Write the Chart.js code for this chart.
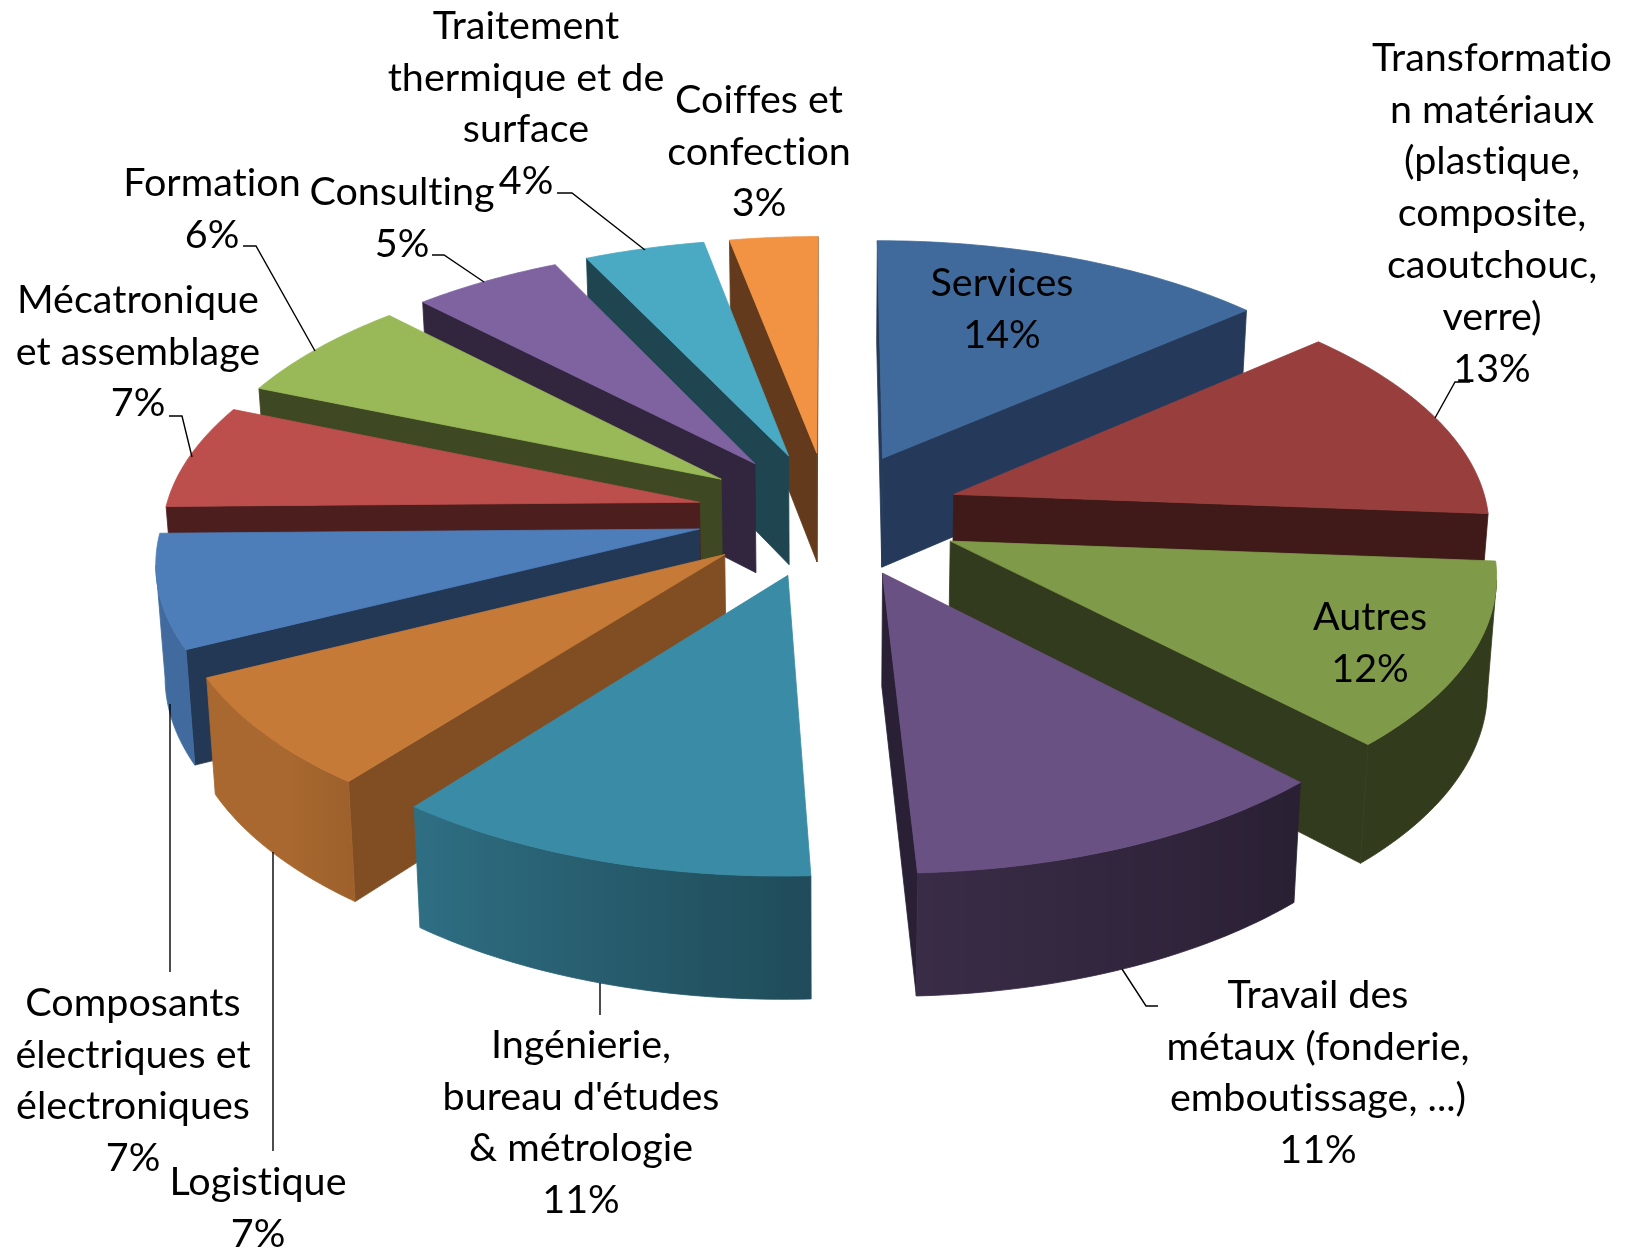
<!DOCTYPE html>
<html>
<head>
<meta charset="utf-8">
<title>Répartition par secteur</title>
<script src="https://cdn.jsdelivr.net/npm/chart.js@4"></script>
<style>
  body { margin: 0; background: white; }
  #wrap { width: 1627px; height: 1252px; }
</style>
</head>
<body>
<div id="wrap"><canvas id="pie" width="1627" height="1252"></canvas></div>
<script>
const categories = [
  "Services", "Transformation matériaux (plastique, composite, caoutchouc, verre)", "Autres",
  "Travail des métaux (fonderie, emboutissage, ...)", "Ingénierie, bureau d'études & métrologie",
  "Logistique", "Composants électriques et électroniques", "Mécatronique et assemblage",
  "Formation", "Consulting", "Traitement thermique et de surface", "Coiffes et confection",
];
// they round to the printed percentages
const values = [13.55, 12.6, 11.6, 11.4, 11.2, 7.1, 7.1, 6.55, 6.45, 5.1, 4.1, 3.0];
const topColors = [
  "#3F6A9B", "#983F3E", "#7F9A48", "#6A5183", "#3A8BA5", "#C67A37",
  "#4D7EBA", "#BC4E4C", "#99B958", "#7F63A1", "#4AA9C3", "#F29343",
];
const cutColors = [
  "#253A5A", "#3F1A18", "#333B1E", "#2A2035", "#1F4D5C", "#804E22",
  "#233855", "#4C1E1E", "#3E4822", "#32263F", "#1E4550", "#633B1C",
];

// how the labels were wrapped in the original
const labelLines = [
  ["Services"],
  ["Transformatio", "n matériaux", "(plastique,", "composite,", "caoutchouc,", "verre)"],
  ["Autres"],
  ["Travail des", "métaux (fonderie,", "emboutissage, ...)"],
  ["Ingénierie,", "bureau d'études", "& métrologie"],
  ["Logistique"],
  ["Composants", "électriques et", "électroniques"],
  ["Mécatronique", "et assemblage"],
  ["Formation"],
  ["Consulting"],
  ["Traitement", "thermique et de", "surface"],
  ["Coiffes et", "confection"],
];
const labelSpots = [
  [1002, 283], [1492, 58], [1370, 617], [1318, 995], [581, 1045], [258, 1182],
  [133, 1003], [138, 300], [212, 183], [402, 192], [526, 26], [759, 100],
];
const leaders = [
  [[1470, 382], [1455, 382], [1435, 418]],
  [[1158, 1006], [1146, 1006], [1122, 969]],
  [[600, 983], [600, 1015]],
  [[273, 852], [273, 1151]],
  [[170, 704], [170, 972]],
  [[169, 416], [182, 416], [192, 457]],
  [[243, 246], [256, 246], [315, 351]],
  [[432, 255], [444, 255], [484, 282]],
  [[557, 193], [572, 193], [645, 250]],
];

const camera = { cx: 829, cy: 514, scale: 535, tilt: 0.473, persp: 0.11, height: 0.21, fall: 0.014 };
const lineGap = 51.8;

function project(u, v, z) {
  const w = (1 - camera.persp * v) * (1 + camera.fall * z);
  return {
    x: camera.cx + (camera.scale * u) / w,
    y: camera.cy + (camera.scale * (camera.tilt * v + camera.height * z)) / w,
  };
}

function clamp(a, lo, hi) {
  return Math.min(hi, Math.max(lo, a));
}

function shade(hex, f) {
  const n = parseInt(hex.slice(1), 16);
  const r = Math.round(((n >> 16) & 255) * f);
  const g = Math.round(((n >> 8) & 255) * f);
  const b = Math.round((n & 255) * f);
  return "rgb(" + r + "," + g + "," + b + ")";
}

function fillPoly(ctx, pts, color) {
  ctx.beginPath();
  pts.forEach((p, i) => (i ? ctx.lineTo(p.x, p.y) : ctx.moveTo(p.x, p.y)));
  ctx.closePath();
  ctx.fillStyle = color;
  ctx.strokeStyle = color;
  ctx.lineWidth = 0.8;
  ctx.fill();
  ctx.stroke();
}

// true when a vertical wall through (u,v) with normal (nu,nv) faces the camera
function facing(u, v, nu, nv) {
  return (0 - u) * nu + (1 / camera.persp - v) * nv > 0;
}

function wallShade(a) {
  const clock = (((a + Math.PI / 2) * 180) / Math.PI + 360) % 360;
  if (clock < 177) return clamp(0.39 + (0.15 * (clock - 136)) / 41, 0.39, 0.54);
  return clamp(0.54 + (0.26 * (clock - 177)) / 41, 0.54, 0.85);
}

// rounded outer wall, lighter towards the left
function drawRim(ctx, rim, color) {
  const seen = rim.filter((p) => facing(p.u, p.v, Math.cos(p.a), Math.sin(p.a)));
  if (seen.length < 2) return;
  const upper = seen.map((p) => project(p.u, p.v, 0));
  const lower = seen.map((p) => project(p.u, p.v, 1)).reverse();
  const xs = upper.map((p) => p.x);
  const minX = Math.min(...xs);
  const maxX = Math.max(...xs);
  const grad = ctx.createLinearGradient(minX, 0, maxX, 0);
  seen.forEach((p, s) => {
    grad.addColorStop((upper[s].x - minX) / (maxX - minX || 1), shade(color, wallShade(p.a)));
  });
  fillPoly(ctx, upper.concat(lower), grad);
}

function drawSlice(ctx, arc, i) {
  const R = arc.outerRadius;
  const off = arc.options.offset / R;
  const mid = (arc.startAngle + arc.endAngle) / 2;
  const ax = Math.cos(mid) * off;
  const ay = Math.sin(mid) * off;
  const steps = 40;
  const rim = [];
  for (let s = 0; s <= steps; s++) {
    const a = arc.startAngle + ((arc.endAngle - arc.startAngle) * s) / steps;
    rim.push({ a: a, u: ax + Math.cos(a), v: ay + Math.sin(a) });
  }
  const first = rim[0];
  const last = rim[steps];

  // the two cut faces
  if (facing(ax, ay, Math.sin(arc.startAngle), -Math.cos(arc.startAngle))) {
    fillPoly(ctx, [project(ax, ay, 0), project(first.u, first.v, 0), project(first.u, first.v, 1), project(ax, ay, 1)], cutColors[i]);
  }
  if (facing(ax, ay, -Math.sin(arc.endAngle), Math.cos(arc.endAngle))) {
    fillPoly(ctx, [project(ax, ay, 0), project(last.u, last.v, 0), project(last.u, last.v, 1), project(ax, ay, 1)], cutColors[i]);
  }

  drawRim(ctx, rim, arc.options.backgroundColor);

  // top face
  const top = [project(ax, ay, 0)].concat(rim.map((p) => project(p.u, p.v, 0)));
  fillPoly(ctx, top, arc.options.backgroundColor);
}

const solidPie = {
  id: "solidPie",
  // the flat arcs are replaced, their geometry is read from the elements
  beforeDatasetDraw(chart) {
    const ctx = chart.ctx;
    const arcs = chart.getDatasetMeta(0).data;
    const order = arcs.map((arc, i) => i).sort((a, b) => {
      const ma = (arcs[a].startAngle + arcs[a].endAngle) / 2;
      const mb = (arcs[b].startAngle + arcs[b].endAngle) / 2;
      return Math.sin(ma) - Math.sin(mb);
    });
    order.forEach((i) => drawSlice(ctx, arcs[i], i));
    return false;
  },
  afterDatasetsDraw(chart) {
    const ctx = chart.ctx;
    const total = values.reduce((a, b) => a + b, 0);
    ctx.strokeStyle = "#000";
    ctx.lineWidth = 1.4;
    leaders.forEach((line) => {
      ctx.beginPath();
      line.forEach((p, i) => (i ? ctx.lineTo(p[0], p[1]) : ctx.moveTo(p[0], p[1])));
      ctx.stroke();
    });
    ctx.fillStyle = "#000";
    ctx.font = "39.5px Lato";
    ctx.letterSpacing = "0.01px"; // keeps the "ti" ligature off
    ctx.textAlign = "center";
    ctx.textBaseline = "middle";
    categories.forEach((c, i) => {
      const lines = labelLines[i].concat(Math.round((values[i] / total) * 100) + "%");
      lines.forEach((t, j) => ctx.fillText(t, labelSpots[i][0], labelSpots[i][1] + j * lineGap));
    });
  },
};

new Chart(document.getElementById("pie").getContext("2d"), {
  type: "pie",
  data: {
    labels: categories,
    datasets: [{ data: values, backgroundColor: topColors, borderWidth: 0, offset: 138, hoverOffset: 0 }],
  },
  options: {
    responsive: false,
    animation: false,
    events: [],
    plugins: { legend: { display: false }, tooltip: { enabled: false } },
  },
  plugins: [solidPie],
});
</script>
</body>
</html>
